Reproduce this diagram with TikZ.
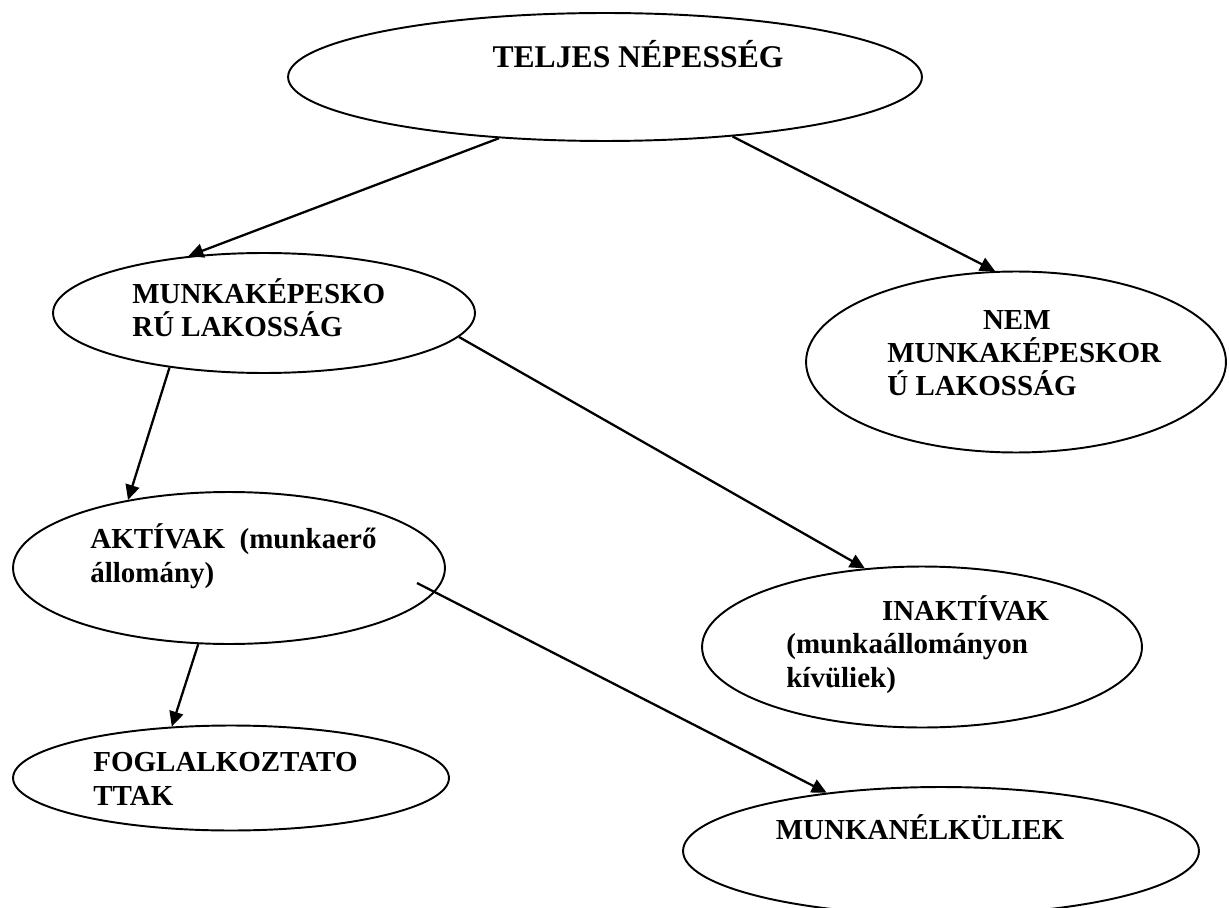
\documentclass[tikz,border=0pt]{standalone}
\usepackage{fontspec}
\setmainfont{Liberation Serif}
\usetikzlibrary{arrows.meta,shapes.geometric}
\tikzset{
->, % every connector is directed
>={Triangle[length=8.5pt,width=8pt]}, % filled heads
blob/.style={ellipse, draw, line width=1.1pt}, % the ellipses
txt/.style={inner sep=0pt, align=left, font=\fontsize{16.5}{19}\selectfont\bfseries}, % text inside them
every edge/.append style={line width=1.3pt}, % connectors a bit heavier
}

\begin{document}
\begin{tikzpicture}[x=0.02cm, y=-0.02cm]
\useasboundingbox (0,0) rectangle (1229,908);
% ellipses
\node[blob, minimum width=12.68cm, minimum height=2.56cm] (teljes) at (605,77) {};
\node[blob, minimum width=8.44cm, minimum height=2.4cm] (munka) at (264,313) {};
\node[blob, minimum width=8.4cm, minimum height=3.62cm] (nem) at (1016,362) {};
\node[blob, minimum width=8.64cm, minimum height=3.04cm] (aktiv) at (229,568) {};
\node[blob, minimum width=8.8cm, minimum height=3.22cm] (inaktiv) at (922,647) {};
\node[blob, minimum width=8.72cm, minimum height=2.1cm] (foglal) at (231,778) {};
\node[blob, minimum width=10.32cm, minimum height=2.56cm] (nelkul) at (941,851) {};
% texts (base = last line)
\node[txt, anchor=base, font=\fontsize{18}{21}\selectfont\bfseries] (teljestxt) at (638,68) {TELJES NÉPESSÉG};
\node[txt, anchor=base west] (munkatxt) at (132,337) {MUNKAKÉPESKO\\RÚ LAKOSSÁG};
\node[txt, anchor=base west] (nemtxt) at (887,396) {\hspace*{3.3em}NEM\\MUNKAKÉPESKOR\\Ú LAKOSSÁG};
\node[txt, anchor=base west] (aktivtxt) at (90,582) {AKTÍVAK\ \ (munkaerő\\állomány)};
\node[txt, anchor=base west] (inaktivtxt) at (786,687) {\hspace*{3.3em}INAKTÍVAK\\(munkaállományon\\kívüliek)};
\node[txt, anchor=base west] (foglaltxt) at (93,805) {FOGLALKOZTATO\\TTAK};
\node[txt, anchor=base] (nelkultxt) at (920,839) {MUNKANÉLKÜLIEK};
% connectors
\path (teljes.210) edge (munka.143)
(teljes.-25) edge (nem.103)
(munka.210) edge (aktiv.146)
(munka.-7) edge (inaktiv.126)
(aktiv.248) edge (foglal.139)
([shift={(188,15)}]aktiv.center) edge (nelkul.153);
\end{tikzpicture}
\end{document}
